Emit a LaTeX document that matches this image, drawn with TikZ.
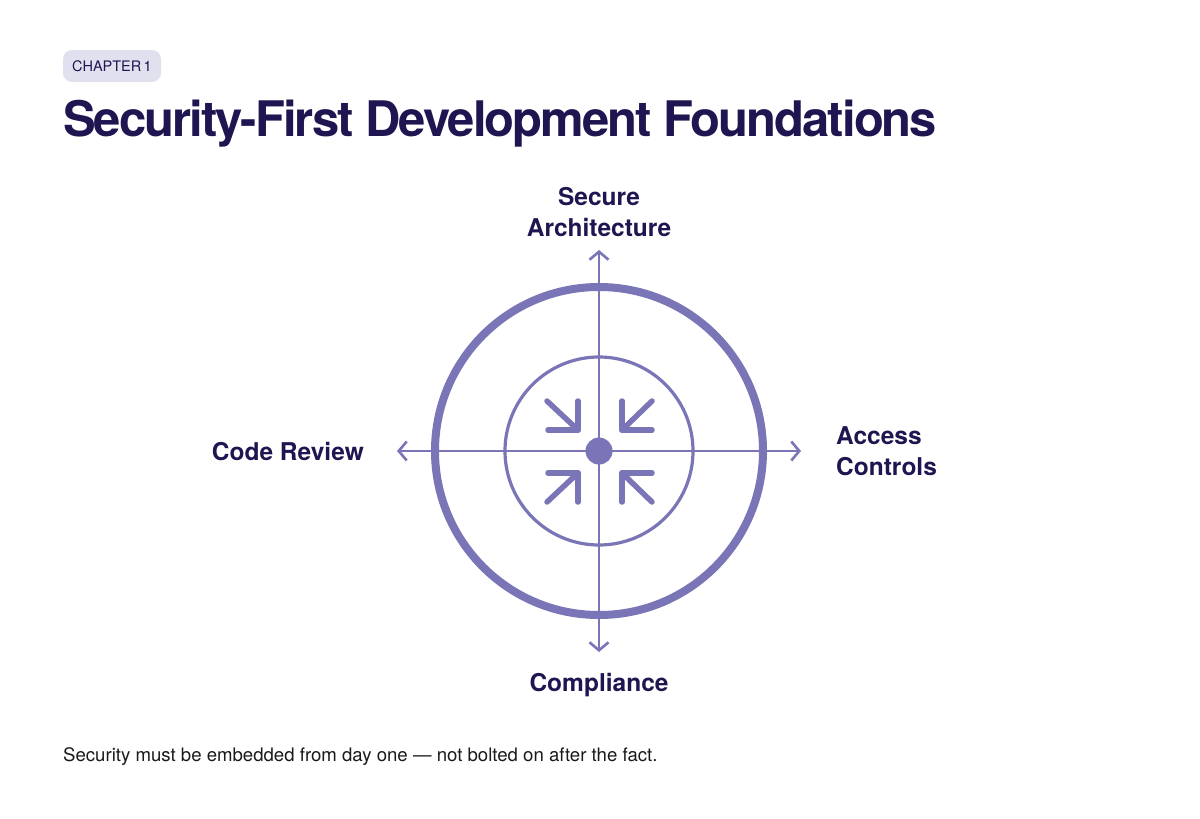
\documentclass[tikz,border=0pt]{standalone}
\usepackage{fontspec}
\setmainfont{TeX Gyre Heros}
\usetikzlibrary{arrows.meta}
\definecolor{ink}{HTML}{1F1551}
\definecolor{lav}{HTML}{7A75B7}
\definecolor{pill}{HTML}{E1E0EE}
\definecolor{body}{HTML}{1A1A1A}
\tikzset{
  axis/.style={draw=lav, line width=2.6pt, line cap=round, -{Straight Barb[length=8pt,width=19pt,line width=2.6pt]}},
  lbl/.style={font=\fontsize{24.5}{31}\selectfont\bfseries, text=ink, inner sep=0pt},
  conv/.style={draw=lav, line width=5.5pt, line cap=round, line join=round},
}
\begin{document}
\begin{tikzpicture}[x=1pt,y=-1pt]
\useasboundingbox (0,0) rectangle (1200,819);
\fill[white] (0,0) rectangle (1200,819);
% chapter pill
\node[fill=pill, rounded corners=9pt, minimum width=98pt, minimum height=32pt, inner sep=0pt,
  font=\fontsize{14.5}{16}\selectfont, text=ink] (chap) at (112,66) {CHAPTER\,1};
% title
\node[anchor=base west, inner sep=0pt, text=ink,
  font=\fontsize{49}{56}\selectfont\bfseries\addfontfeatures{LetterSpace=-4}] (title) at (63,136)
  {Security-First Development Foundations};
% center
\coordinate (c) at (599,451);
\coordinate (top) at (599,250);
\coordinate (bot) at (599,652);
\coordinate (lft) at (397,451);
\coordinate (rgt) at (801,451);
\draw[lav, line width=8pt] (c) circle[radius=164];
\draw[lav, line width=3.2pt] (c) circle[radius=94];
\draw[axis] (c) -- (top);
\draw[axis] (c) -- (bot);
\draw[axis] (c) -- (lft);
\draw[axis] (c) -- (rgt);
\fill[lav] (c) circle[radius=13.5];
% converging arrows
\coordinate (tl) at (578,430);
\coordinate (tr) at (622,430);
\coordinate (bl) at (578,473);
\coordinate (br) at (622,473);
\draw[conv] (547,401) -- (tl);
\draw[conv] (578,401) -- (tl) -- (548,430);
\draw[conv] (652,401) -- (tr);
\draw[conv] (622,401) -- (tr) -- (652,430);
\draw[conv] (547,502) -- (bl);
\draw[conv] (578,502) -- (bl) -- (548,473);
\draw[conv] (652,502) -- (br);
\draw[conv] (622,502) -- (br) -- (652,473);
% labels
\node[lbl, align=center, anchor=base] (secure) at (599,236) {Secure\\Architecture};
\node[lbl, anchor=base east] (code) at (364,460) {Code Review};
\node[lbl, align=left, anchor=base west] (access) at (836,475) {Access\\Controls};
\node[lbl, anchor=base] (comp) at (599,691) {Compliance};
% footer
\node[anchor=base west, inner sep=0pt, text=body, font=\fontsize{18.6}{20}\selectfont] (foot) at (63,761)
  {Security must be embedded from day one — not bolted on after the fact.};
\end{tikzpicture}
\end{document}
